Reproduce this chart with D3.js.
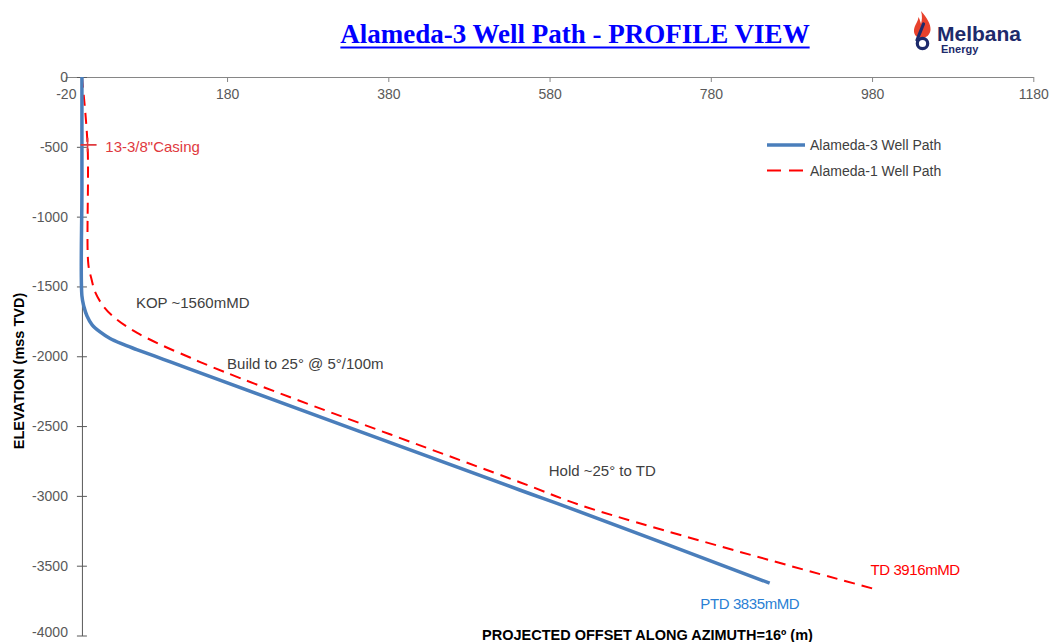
<!DOCTYPE html>
<html>
<head>
<meta charset="utf-8">
<script src="https://cdn.jsdelivr.net/npm/d3@7/dist/d3.min.js"></script>
<style>
  html, body { margin: 0; padding: 0; background: #ffffff; }
  svg { display: block; }
  text { font-family: "Liberation Sans", Arial, sans-serif; }
</style>
</head>
<body>
<svg id="chart" width="1050" height="642"></svg>
<script>
// ---------------- DATA ----------------
const xTickValues = [-20, 180, 380, 580, 780, 980, 1180];
const yTickValues = [0, -500, -1000, -1500, -2000, -2500, -3000, -3500, -4000];

const seriesNames = ["Alameda-3 Well Path", "Alameda-1 Well Path"];

// Alameda-3 (planned) well path: offset (m) and elevation (m TVDss)
const a3Offset = [0, 0, 0, 2.6, 6.3, 12.4, 22.5, 34.9, 49.8, 68, 101, 134, 543, 606, 853];
const a3Elev   = [0, -800, -1568, -1647, -1712, -1773, -1826, -1873, -1912, -1952, -2022, -2093, -2958, -3089, -3625];

// Alameda-1 well path
const a1Offset = [0, 7, 8, 12, 16, 26.5, 43, 68, 101, 134, 146, 221, 543, 626, 981];
const a1Elev   = [0, -486, -1343, -1450, -1534, -1641, -1736, -1831, -1926, -2009, -2040, -2212, -2902, -3081, -3664];

// Casing point on Alameda-1
const casingOffset = [7];
const casingElev = [-486];

const titleText = "Alameda-3 Well Path - PROFILE VIEW";
const xAxisTitle = "PROJECTED OFFSET ALONG AZIMUTH=16º (m)";
const yAxisTitle = "ELEVATION (mss TVD)";
const annotationTexts = ["13-3/8\"Casing", "KOP ~1560mMD", "Build to 25° @ 5°/100m", "Hold ~25° to TD", "TD 3916mMD", "PTD 3835mMD"];

// ---------------- CHART ----------------
const svg = d3.select("#chart");

const x = d3.scaleLinear().domain([-20, 1180]).range([65.8, 1033.3]);
const y = d3.scaleLinear().domain([-4000, 0]).range([635.5, 77]);

const blue = "#4a7ebb";
const red = "#ff0000";
const fmt = d => String(d);

// Title
const title = svg.append("text")
  .attr("x", 575).attr("y", 43)
  .attr("text-anchor", "middle")
  .style("font-family", "'Liberation Serif', 'Times New Roman', serif")
  .style("font-weight", "bold")
  .style("font-size", "27px")
  .style("fill", "#0000ff")
  .text(titleText);
const tw = title.node().getComputedTextLength();
svg.append("line")
  .attr("x1", 575 - tw / 2).attr("x2", 575 + tw / 2)
  .attr("y1", 47.5).attr("y2", 47.5)
  .attr("stroke", "#0000ff").attr("stroke-width", 2);

// Logo
const logo = svg.append("g");
logo.append("path")
  .attr("d", "M921,11 C927,18 931,24 930.5,30 C930,35 926,38 922,38 C917,38 913.5,35 914,30 C914.5,25 918,22 918.5,17 C920,20 920.5,22 921,24 C922,20 922.5,16 921,11 Z")
  .attr("fill", "#e8412c");
logo.append("path")
  .attr("d", "M923.5,24 L917,40")
  .attr("stroke", "#1d2a6b").attr("stroke-width", 3.2).attr("fill", "none").attr("stroke-linecap", "round");
logo.append("circle")
  .attr("cx", 922.5).attr("cy", 43.5).attr("r", 5.2)
  .attr("stroke", "#1d2a6b").attr("stroke-width", 3.2).attr("fill", "none");
logo.append("text")
  .attr("x", 937).attr("y", 40.5)
  .style("font-weight", "bold").style("font-size", "21px").style("fill", "#1d2a6b")
  .text("Melbana");
logo.append("text")
  .attr("x", 941).attr("y", 53)
  .style("font-weight", "bold").style("font-size", "11px").style("fill", "#1d2a6b")
  .text("Energy");

// X axis (at top, elevation 0)
const xAxis = d3.axisBottom(x).tickValues(xTickValues).tickFormat(fmt).tickSize(5).tickSizeOuter(0).tickPadding(7);
const gx = svg.append("g").attr("transform", `translate(0,${y(0)})`).call(xAxis);
gx.select(".domain").attr("stroke", "#868686");
gx.selectAll(".tick line").attr("stroke", "#868686");
gx.selectAll(".tick text")
  .style("font-size", "14px").style("fill", "#595959")
  .style("font-family", "'Liberation Sans', Arial, sans-serif");
gx.selectAll(".tick").filter(d => d === 1180).select("text").attr("text-anchor", "end").attr("x", 15);

// Y axis (at offset 0)
const yAxis = d3.axisLeft(y).tickValues(yTickValues).tickFormat(fmt).tickSize(5).tickSizeOuter(0).tickPadding(9);
const gy = svg.append("g").attr("transform", `translate(${x(0)},0)`).call(yAxis);
gy.select(".domain").attr("stroke", "#595959");
gy.selectAll(".tick line").attr("stroke", "#595959").attr("x1", 5);
gy.selectAll(".tick text")
  .style("font-size", "14px").style("fill", "#595959")
  .style("font-family", "'Liberation Sans', Arial, sans-serif");
gy.selectAll(".tick").filter(d => d === -4000).select("text").attr("dy", "0.1em");

// Axis titles
svg.append("text")
  .attr("x", 482).attr("y", 640)
  .style("font-weight", "bold").style("font-size", "14.5px").style("fill", "#000")
  .text(xAxisTitle);
svg.append("text")
  .attr("transform", `translate(23.5,371) rotate(-90)`)
  .attr("text-anchor", "middle")
  .style("font-weight", "bold").style("font-size", "14.5px").style("fill", "#000")
  .text(yAxisTitle);

// Lines
const line = d3.line().x(d => x(d[0])).y(d => y(d[1])).curve(d3.curveCatmullRom.alpha(0.5));
const a1 = a1Offset.map((v, i) => [v, a1Elev[i]]);
const a3 = a3Offset.map((v, i) => [v, a3Elev[i]]);

svg.append("path").datum(a1)
  .attr("d", line).attr("fill", "none")
  .attr("stroke", red).attr("stroke-width", 2).attr("stroke-dasharray", "11,7");

svg.append("path").datum(a3)
  .attr("d", line).attr("fill", "none")
  .attr("stroke", blue).attr("stroke-width", 3.5);

// Casing marker (+)
casingOffset.forEach((cx, i) => {
  const px = x(cx), py = y(casingElev[i]);
  svg.append("path")
    .attr("d", `M${px - 7},${py} L${px + 9},${py} M${px},${py - 7} L${px},${py + 7}`)
    .attr("stroke", "#e0393e").attr("stroke-width", 1.6).attr("fill", "none");
});

// Annotations
const ann = [
  { t: annotationTexts[0], x: x(29), y: y(-539), c: "#e0393e" },
  { t: annotationTexts[1], x: x(67), y: y(-1652), c: "#404040" },
  { t: annotationTexts[2], x: x(180), y: y(-2088), c: "#404040" },
  { t: annotationTexts[3], x: x(579), y: y(-2859), c: "#404040" },
  { t: annotationTexts[4], x: x(978), y: y(-3564), c: "#ff0000" },
  { t: annotationTexts[5], x: x(767), y: y(-3807), c: "#2a7fd4" }
];
svg.selectAll("text.ann").data(ann).enter().append("text")
  .attr("class", "ann")
  .attr("x", d => d.x).attr("y", d => d.y)
  .style("font-size", "15px")
  .style("fill", d => d.c)
  .style("letter-spacing", (d, i) => i >= 4 ? "-0.4px" : "0px")
  .text(d => d.t);

// Legend
const legend = svg.append("g");
legend.append("line")
  .attr("x1", 767).attr("x2", 805).attr("y1", 145).attr("y2", 145)
  .attr("stroke", blue).attr("stroke-width", 3.5);
legend.append("line")
  .attr("x1", 767).attr("x2", 805).attr("y1", 170.5).attr("y2", 170.5)
  .attr("stroke", red).attr("stroke-width", 2).attr("stroke-dasharray", "14,8");
legend.append("text").attr("x", 810).attr("y", 150)
  .style("font-size", "14px").style("fill", "#404040").text(seriesNames[0]);
legend.append("text").attr("x", 810).attr("y", 175.5)
  .style("font-size", "14px").style("fill", "#404040").text(seriesNames[1]);
</script>
</body>
</html>
